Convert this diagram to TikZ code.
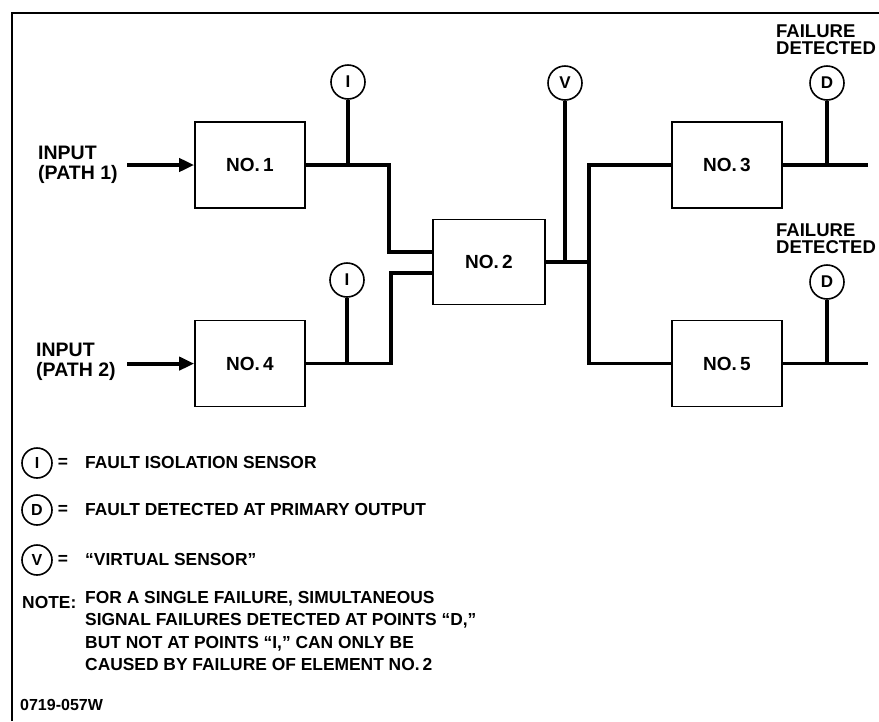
\documentclass[tikz,border=0pt]{standalone}
\usepackage{fontspec}
\setmainfont{Liberation Sans}
\usepackage{tikz}
\usetikzlibrary{arrows.meta,positioning}

\begin{document}
\begin{tikzpicture}[
    x=1pt, y=-1pt,
    node distance=111pt and 128pt,
    font=\fontsize{17.4}{21}\selectfont\bfseries,
    block/.style={
        draw,
        line width=1.6pt,
        minimum width=110pt,
        minimum height=86pt,
        font=\fontsize{19}{21}\selectfont\bfseries
    },
    sensor/.style={
        draw,
        circle,
        line width=1.6pt,
        minimum size=34pt,
        inner sep=0pt,
        font=\fontsize{17}{17}\selectfont\bfseries
    },
    keysensor/.style={
        sensor,
        minimum size=30pt,
        font=\fontsize{16}{16}\selectfont\bfseries
    },
    wire/.style={line width=3.6pt},
    feed/.style={line width=4.2pt, -{Triangle[length=15pt,width=13pt]}},
    lbl/.style={align=left, inner sep=0pt},
    side/.style={lbl, font=\fontsize{19.5}{20.5}\selectfont\bfseries},
    flag/.style={lbl, font=\fontsize{18.5}{17}\selectfont\bfseries}
]

\useasboundingbox (0,0) rectangle (879,721);

% frame
\draw[line width=2.4pt] (12,721) -- (12,13) -- (879,13);

% elements
\node[block] (n1) at (250,165) {NO.\,1};
\node[block, below=111pt of n1] (n4) {NO.\,4};
\node[block, minimum width=112pt, minimum height=85pt] (n2) at (489,262) {NO.\,2};
\node[block] (n3) at (727,165) {NO.\,3};
\node[block, below=111pt of n3] (n5) {NO.\,5};

% sensors
\node[sensor] (iso1) at (348,82) {I};
\node[sensor] (iso4) at (347,280) {I};
\node[sensor] (virt) at (565,83) {V};
\node[sensor] (det3) at (827,83) {D};
\node[sensor] (det5) at (827,282) {D};

% inputs
\node[side, anchor=west] (in1) at (38,165) {INPUT\\(PATH 1)};
\node[side, anchor=west] (in4) at (36,362) {INPUT\\(PATH 2)};
\coordinate (a1) at ([xshift=-67pt]n1.west);
\coordinate (a4) at ([xshift=-67pt]n4.west);
\draw[feed] (a1) -- (n1.west);
\draw[feed] (a4) -- (n4.west);

% junctions
\coordinate (j1) at ([xshift=83pt]n1.east);
\coordinate (j4) at ([xshift=85pt]n4.east);
\coordinate (j2) at ([xshift=43pt]n2.east);
\coordinate (o3) at ([xshift=85pt]n3.east);
\coordinate (o5) at ([xshift=85pt]n5.east);

\draw[wire] (n1.east) -- (j1) |- ([yshift=10pt]n2.west);
\draw[wire] (n4.east) -- (j4) |- ([yshift=-11pt]n2.west);
\draw[wire] (n2.east) -- (j2);
\draw[wire] (n3.west) -| (j2) |- (n5.west);
\draw[wire] (n3.east) -- (o3);
\draw[wire] (n5.east) -- (o5);

\draw[wire] (iso1.south) -- (iso1 |- j1);
\draw[wire] (iso4.south) -- (iso4 |- j4);
\draw[wire] (virt.south) -- (virt |- j2);
\draw[wire] (det3.south) -- (det3 |- o3);
\draw[wire] (det5.south) -- (det5 |- o5);

% outputs
\node[flag, anchor=west] (fd3) at (776,40) {FAILURE\\DETECTED};
\node[flag, anchor=west] (fd5) at (776,239) {FAILURE\\DETECTED};

% key
\node[keysensor] (kiso) at (37,463) {I};
\node[keysensor] (kdet) at (37,510) {D};
\node[keysensor] (kvirt) at (37,560) {V};
\node[lbl] (eiso) at (63,463) {=};
\node[lbl] (edet) at (63,510) {=};
\node[lbl] (evirt) at (63,560) {=};
\node[lbl, anchor=west] (tiso) at (85,463) {FAULT ISOLATION SENSOR};
\node[lbl, anchor=west] (tdet) at (85,510) {FAULT DETECTED AT PRIMARY OUTPUT};
\node[lbl, anchor=west] (tvirt) at (85,560) {“VIRTUAL SENSOR”};

\node[lbl, anchor=west] (note) at (22,603) {NOTE:};
\node[lbl, anchor=north west, font=\fontsize{17.4}{22.5}\selectfont\bfseries] (notetext) at (85,591)
    {FOR A SINGLE FAILURE, SIMULTANEOUS\\
     SIGNAL FAILURES DETECTED AT POINTS “D,”\\
     BUT NOT AT POINTS “I,” CAN ONLY BE\\
     CAUSED BY FAILURE OF ELEMENT NO.\,2};

\node[lbl, anchor=west, font=\fontsize{16}{16}\selectfont\bfseries] (fig) at (20,705) {0719-057W};

\end{tikzpicture}
\end{document}
